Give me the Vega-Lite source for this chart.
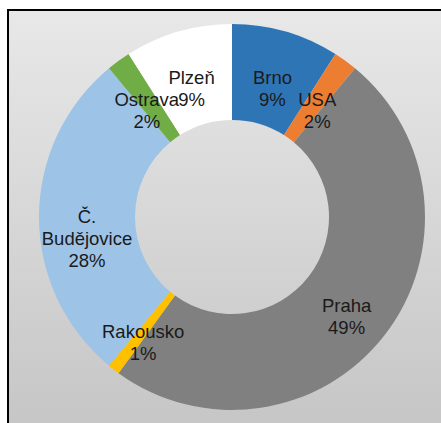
{
  "$schema": "https://vega.github.io/schema/vega-lite/v6.json",
  "autosize": "none",
  "width": 448,
  "height": 414,
  "padding": {"left": 8, "top": 10, "right": -15, "bottom": -1},
  "background": "white",
  "config": {"view": {"stroke": null}},
  "data": {
    "values": [
      {"city": "Brno", "share": 9, "order": 1, "label": "Brno\n9%"},
      {"city": "USA", "share": 2, "order": 2, "label": "USA\n2%"},
      {"city": "Praha", "share": 49, "order": 3, "label": "Praha\n49%"},
      {"city": "Rakousko", "share": 1, "order": 4, "label": "Rakousko\n1%"},
      {"city": "Č. Budějovice", "share": 28, "order": 5, "label": "Č.\nBudějovice\n28%"},
      {"city": "Ostrava", "share": 2, "order": 6, "label": "Ostrava\n2%"},
      {"city": "Plzeň", "share": 9, "order": 7, "label": "Plzeň\n9%"}
    ]
  },
  "layer": [
    {
      "data": {"values": [{"panel": "frame"}]},
      "mark": {
        "type": "rect",
        "stroke": "black",
        "strokeWidth": 2,
        "fill": {"gradient": "linear", "x1": 0, "y1": 0, "x2": 0, "y2": 1, "stops": [{"offset": 0, "color": "#e8e8e8"}, {"offset": 1, "color": "#c6c6c6"}]}
      },
      "encoding": {}
    },
    {
      "mark": {"type": "arc", "outerRadius": 193, "innerRadius": 97},
      "encoding": {
        "theta": {"field": "share", "type": "quantitative", "stack": true},
        "order": {"field": "order", "type": "quantitative"},
        "color": {
          "field": "city",
          "type": "nominal",
          "legend": null,
          "scale": {
            "domain": ["Brno", "USA", "Praha", "Rakousko", "Č. Budějovice", "Ostrava", "Plzeň"],
            "range": ["#2E75B6", "#ED7D31", "#808080", "#FFC000", "#9DC3E6", "#70AD47", "#FFFFFF"]
          }
        }
      }
    },
    {
      "mark": {"type": "text", "radius": 145, "font": "Liberation Sans", "fontSize": 18.5, "lineBreak": "\n", "lineHeight": 22, "color": "#1a1a1a", "align": "center", "baseline": "middle"},
      "encoding": {
        "theta": {"field": "share", "type": "quantitative", "stack": true},
        "order": {"field": "order", "type": "quantitative"},
        "text": {"field": "label", "type": "nominal"}
      }
    }
  ]
}
